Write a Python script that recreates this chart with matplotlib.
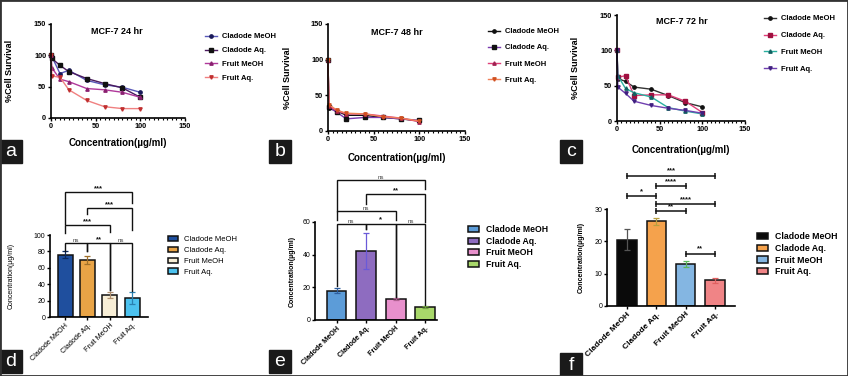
import numpy as np
import matplotlib
matplotlib.use('Agg')
import matplotlib.pyplot as plt
from matplotlib.patches import Rectangle
from matplotlib.ticker import MultipleLocator

plt.rcParams['font.family'] = ['Liberation Sans', 'DejaVu Sans']

W, H = 848, 376

# ---- data ----
conc = [0, 1, 10, 20, 40, 60, 80, 100]
names = ['Cladode MeOH', 'Cladode Aq.', 'Fruit MeOH', 'Fruit Aq.']

# MCF-7 24 hr
a_cm = [100, 98, 71, 76, 60, 53, 49, 41]
a_ca = [100, 95, 84, 74, 63, 55, 48, 33]
a_fm = [100, 80, 62, 58, 47, 45, 41, 33]
a_fa = [100, 67, 65, 45, 28, 18, 15, 15]
# MCF-7 48 hr
b_cm = [100, 32, 28, 22, 22, 19, 17, 14]
b_ca = [100, 33, 26, 17, 19, 19, 17, 15]
b_fm = [100, 35, 28, 24, 24, 21, 18, 13]
b_fa = [100, 37, 29, 25, 24, 20, 18, 14]
# MCF-7 72 hr
c_cm = [100, 60, 56, 48, 45, 36, 26, 20]
c_ca = [100, 62, 64, 36, 37, 37, 28, 12]
c_fm = [100, 64, 46, 40, 34, 19, 14, 10]
c_fa = [100, 48, 39, 28, 22, 18, 15, 11]

# IC50 bars
d_mean = [76, 70, 27, 23]
d_err = [4, 5, 4, 7]
e_mean = [18, 42, 13, 8]
e_err = [1.5, 11, 0.5, 0.5]
f_mean = [20.5, 26.2, 13, 8]
f_err = [3.2, 1.0, 0.8, 0.8]

d_sig = [(0, 1, 'ns'), (1, 2, '**'), (2, 3, 'ns'), (0, 2, '***'), (1, 3, '***'), (0, 3, '***')]
e_sig = [(0, 1, 'ns'), (1, 2, '*'), (2, 3, 'ns'), (0, 2, 'ns'), (1, 3, '**'), (0, 3, 'ns')]
f_sig = [(0, 3, '***'), (1, 2, '****'), (0, 1, '*'), (1, 3, '****'), (1, 2, '**'), (2, 3, '**')]

# bracket geometry (height, left leg bottom, right leg bottom)
d_geom = [(90, 80, 80), (90, 80, 33), (90, 33, 32), (112, 102, 104), (133, 126, 106), (152, 114, 139)]
e_geom = [(59, 21, 56), (59, 56, 14), (59, 14, 9), (67, 61, 61), (77, 71, 60), (86, 67, 80)]
f_geom = [40.3, 37.2, 34.0, 31.5, 29.4, 16.2]

fig = plt.figure(figsize=(W / 100, H / 100), dpi=100)


def px_axes(x0, y0, x1, y1):
    return fig.add_axes([x0 / W, 1 - y1 / H, (x1 - x0) / W, (y1 - y0) / H])


def panel_tag(x0, y0, letter):
    fig.patches.append(Rectangle((x0 / W, 1 - (y0 + 23) / H), 22 / W, 23 / H,
                                 transform=fig.transFigure, color='#1a1a1a', zorder=5))
    fig.text((x0 + 11) / W, 1 - (y0 + 12) / H, letter, color='white', fontsize=14,
             ha='center', va='center', zorder=6)


def style_axes(ax, size=5):
    for s in ['top', 'right']:
        ax.spines[s].set_visible(False)
    for s in ['left', 'bottom']:
        ax.spines[s].set_linewidth(1.2)
    ax.tick_params(width=1, length=2.5, labelsize=size, pad=1)


def line_panel(ax, ys, colors, mcolors, title, title_pos, ylab_x, xlab_y, leg_xy, leg_space):
    marks = ['o', 's', '^', 'v']
    for y, c, mc, m, n in zip(ys, colors, mcolors, marks, names):
        ax.plot(conc, y, color=c, lw=1, marker=m, ms=2.4, mfc=mc, mec=mc, label=n,
                clip_on=False)
    ax.set_xlim(0, 150)
    ax.set_ylim(0, 150)
    ax.set_xticks([0, 50, 100, 150])
    ax.set_yticks([0, 50, 100, 150])
    ax.xaxis.set_minor_locator(MultipleLocator(5))
    style_axes(ax, 5.3)
    for lab in ax.get_xticklabels() + ax.get_yticklabels():
        lab.set_fontweight('bold')
    ax.tick_params(axis='x', which='minor', length=1.5, width=0.8)
    ax.set_ylabel('%Cell Survival', fontsize=6.5, fontweight='bold')
    ax.set_xlabel('Concentration(µg/ml)', fontsize=7, fontweight='bold')
    ax.yaxis.set_label_coords(ylab_x, 0.5)
    ax.xaxis.set_label_coords(0.5, xlab_y)
    ax.text(title_pos[0], title_pos[1], title, transform=ax.transAxes, ha='center',
            va='center', fontsize=6.5, fontweight='bold')
    ax.legend(loc='upper left', bbox_to_anchor=(leg_xy[0] / W, 1 - leg_xy[1] / H),
              bbox_transform=fig.transFigure, frameon=False,
              prop={'weight': 'bold', 'size': 5.5}, handlelength=1.6, borderpad=0,
              borderaxespad=0, labelspacing=leg_space, handletextpad=0.6)


ax_a = px_axes(51, 24, 185, 118)
line_panel(ax_a, [a_cm, a_ca, a_fm, a_fa],
           ['#5858b8', '#4a1a5e', '#b0389a', '#f08080'],
           ['#1a1a5a', '#111111', '#8a2070', '#c03030'],
           'MCF-7 24 hr', (0.49, 0.915), -0.276, -0.21, (205, 33), 0.85)

ax_b = px_axes(328, 24, 465, 131)
line_panel(ax_b, [b_cm, b_ca, b_fm, b_fa],
           ['#111111', '#7a3ab0', '#e0407a', '#f0805a'],
           ['#111111', '#111111', '#a02050', '#d05020'],
           'MCF-7 48 hr', (0.50, 0.925), -0.263, -0.21, (488, 28), 1.15)

ax_c = px_axes(617, 15, 745, 121)
line_panel(ax_c, [c_cm, c_ca, c_fm, c_fa],
           ['#333333', '#e0407a', '#2ab0a0', '#7040b0'],
           ['#111111', '#a01040', '#106060', '#402080'],
           'MCF-7 72 hr', (0.51, 0.94), -0.289, -0.23, (764, 15), 1.25)


def bar_panel(ax, means, errs, colors, ecolors, xlim, width, ylim, yticks, ylab_x,
              leg_xy, bold, tick_size, leg_size, leg_space):
    x = np.arange(len(means))
    bars = ax.bar(x, means, width=width, color=colors, edgecolor='#111111', lw=1.1,
                  label=names, zorder=2)
    for xi, m, e, ec in zip(x, means, errs, ecolors):
        ax.errorbar(xi, m, yerr=e, color=ec, capsize=2.5, lw=0.9, capthick=0.9, zorder=3)
    ax.set_xlim(*xlim)
    ax.set_ylim(*ylim)
    ax.set_yticks(yticks)
    ax.set_xticks(x)
    style_axes(ax)
    ax.set_xticklabels(names, rotation=45, ha='right', rotation_mode='anchor',
                       fontsize=tick_size, fontweight='bold' if bold else 'normal')
    ax.set_ylabel('Concentration(µg/ml)', fontsize=5, fontweight='bold' if bold else 'normal')
    ax.yaxis.set_label_coords(ylab_x, 0.5)
    ax.legend(handles=list(bars), labels=names, loc='upper left',
              bbox_to_anchor=(leg_xy[0] / W, 1 - leg_xy[1] / H),
              bbox_transform=fig.transFigure, frameon=False,
              prop={'weight': 'bold' if bold else 'normal', 'size': leg_size},
              handlelength=1.3, handleheight=0.7, borderpad=0, borderaxespad=0,
              labelspacing=leg_space, handletextpad=0.8)


def leg_bracket(ax, i, j, h, y1, y2, txt):
    ax.plot([i, i, j, j], [y1, h, h, y2], color='#111111', lw=1.0, clip_on=False,
            zorder=4, solid_joinstyle='miter')
    ns = txt == 'ns'
    ax.text((i + j) / 2, h, txt, ha='center', va='bottom',
            fontsize=4.4 if ns else 5.5, color='#444444' if ns else '#111111',
            fontweight='normal' if ns else 'bold', clip_on=False)


ax_d = px_axes(50, 235, 148, 317)
bar_panel(ax_d, d_mean, d_err, ['#1f4f9e', '#e9a446', '#f7eed6', '#4cc2ef'],
          ['#0c2a60', '#a0702a', '#b09070', '#2a80b0'],
          (-0.67, 3.7), 0.67, (0, 100), [0, 20, 40, 60, 80, 100], -0.36, (168, 236),
          False, 5.2, 5.5, 0.45)
for (i, j, t), (h, y1, y2) in zip(d_sig, d_geom):
    leg_bracket(ax_d, i, j, h, y1, y2, t)

ax_e = px_axes(315, 222, 437, 320)
bar_panel(ax_e, e_mean, e_err, ['#5c9cd8', '#8e6cc0', '#e890cc', '#a8d86a'],
          ['#3060a0', '#6a5ad8', '#b06090', '#70a040'],
          (-0.73, 3.4), 0.67, (0, 60), [0, 20, 40, 60], -0.16, (468, 225),
          True, 5.2, 6.2, 0.3)
for (i, j, t), (h, y1, y2) in zip(e_sig, e_geom):
    leg_bracket(ax_e, i, j, h, y1, y2, t)

ax_f = px_axes(607, 209, 735, 306)
bar_panel(ax_f, f_mean, f_err, ['#0a0a0a', '#f5a24c', '#84b6e2', '#f08486'],
          ['#555555', '#b8a040', '#5cb85c', '#e06060'],
          (-0.68, 3.68), 0.65, (0, 30), [0, 10, 20, 30], -0.17, (757, 232),
          True, 6.0, 6.3, 0.32)
for (i, j, t), h in zip(f_sig, f_geom):
    ax_f.plot([i, j], [h, h], color='#111111', lw=1.1, clip_on=False, marker='|',
              ms=4, mew=1.1, zorder=4)
    ax_f.text((i + j) / 2, h + 0.3, t, ha='center', va='bottom', fontsize=5.5,
              fontweight='bold', color='#111111', clip_on=False)

panel_tag(0, 140, 'a')
panel_tag(269, 140, 'b')
panel_tag(560, 140, 'c')
panel_tag(0, 350, 'd')
panel_tag(269, 350, 'e')
panel_tag(560, 353, 'f')

fig.patches.append(Rectangle((0, 0), 1, 1, transform=fig.transFigure, fill=False,
                             edgecolor='#333333', lw=2, zorder=10))

fig.savefig('out.png', dpi=100)
